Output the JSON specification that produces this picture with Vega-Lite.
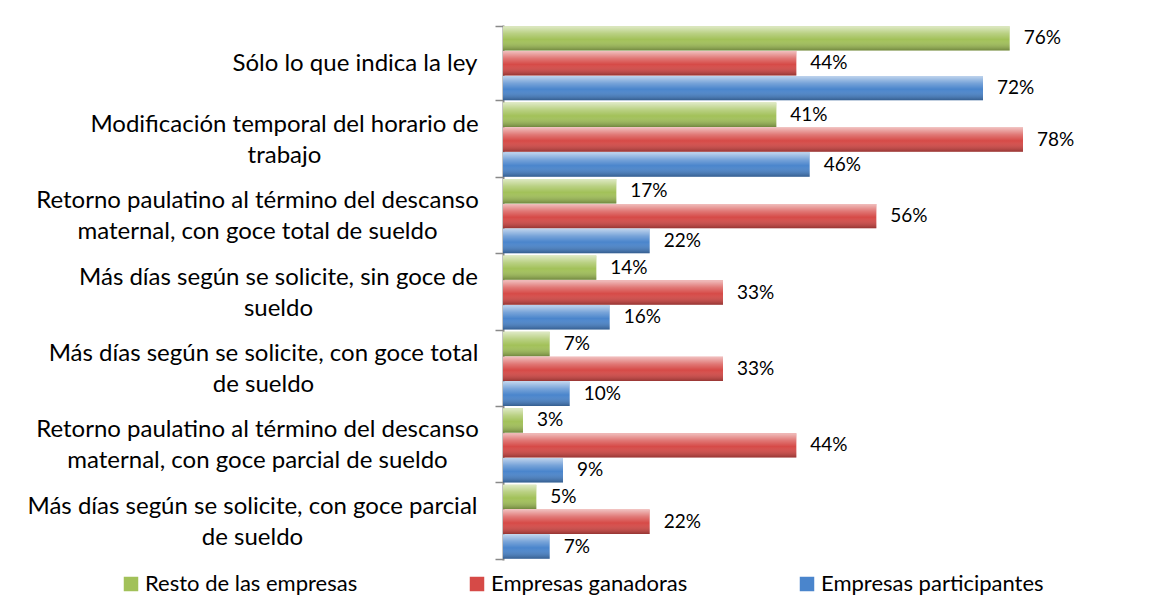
{
  "$schema": "https://vega.github.io/schema/vega-lite/v6.json",
  "autosize": {"type": "none"},
  "padding": {"left": 503, "top": 25, "right": 54, "bottom": 50},
  "width": 600,
  "height": 535,
  "background": "white",
  "config": {"view": {"stroke": null}, "font": "Lato"},
  "data": {"values": [
    {"cat": "Sólo lo que indica la ley", "series": "Resto de las empresas", "value": 0.76},
    {"cat": "Sólo lo que indica la ley", "series": "Empresas ganadoras", "value": 0.44},
    {"cat": "Sólo lo que indica la ley", "series": "Empresas participantes", "value": 0.72},
    {"cat": "Modificación temporal del horario de\ntrabajo", "series": "Resto de las empresas", "value": 0.41},
    {"cat": "Modificación temporal del horario de\ntrabajo", "series": "Empresas ganadoras", "value": 0.78},
    {"cat": "Modificación temporal del horario de\ntrabajo", "series": "Empresas participantes", "value": 0.46},
    {"cat": "Retorno paulatino al término del descanso\nmaternal, con goce total de sueldo", "series": "Resto de las empresas", "value": 0.17},
    {"cat": "Retorno paulatino al término del descanso\nmaternal, con goce total de sueldo", "series": "Empresas ganadoras", "value": 0.56},
    {"cat": "Retorno paulatino al término del descanso\nmaternal, con goce total de sueldo", "series": "Empresas participantes", "value": 0.22},
    {"cat": "Más días según se solicite, sin goce de\nsueldo", "series": "Resto de las empresas", "value": 0.14},
    {"cat": "Más días según se solicite, sin goce de\nsueldo", "series": "Empresas ganadoras", "value": 0.33},
    {"cat": "Más días según se solicite, sin goce de\nsueldo", "series": "Empresas participantes", "value": 0.16},
    {"cat": "Más días según se solicite, con goce total\nde sueldo", "series": "Resto de las empresas", "value": 0.07},
    {"cat": "Más días según se solicite, con goce total\nde sueldo", "series": "Empresas ganadoras", "value": 0.33},
    {"cat": "Más días según se solicite, con goce total\nde sueldo", "series": "Empresas participantes", "value": 0.10},
    {"cat": "Retorno paulatino al término del descanso\nmaternal, con goce parcial de sueldo", "series": "Resto de las empresas", "value": 0.03},
    {"cat": "Retorno paulatino al término del descanso\nmaternal, con goce parcial de sueldo", "series": "Empresas ganadoras", "value": 0.44},
    {"cat": "Retorno paulatino al término del descanso\nmaternal, con goce parcial de sueldo", "series": "Empresas participantes", "value": 0.09},
    {"cat": "Más días según se solicite, con goce parcial\nde sueldo", "series": "Resto de las empresas", "value": 0.05},
    {"cat": "Más días según se solicite, con goce parcial\nde sueldo", "series": "Empresas ganadoras", "value": 0.22},
    {"cat": "Más días según se solicite, con goce parcial\nde sueldo", "series": "Empresas participantes", "value": 0.07}
  ]},
  "encoding": {
    "y": {
      "field": "cat", "type": "nominal", "sort": null,
      "scale": {"paddingInner": 0.03, "paddingOuter": 0.015},
      "axis": {
        "title": null,
        "labelExpr": "isValid(datum.value) ? split(datum.value, '\\n') : ''",
        "labelFont": "Lato", "labelFontSize": 24, "labelColor": "#000000", "labelFontWeight": "normal",
        "labelLineHeight": 31, "labelBaseline": "middle",
        "labelAlign": {"condition": {"test": "isValid(datum.value) && indexof(datum.value, '\\n') >= 0", "value": "center"}, "value": "right"},
        "labelOffset": {"condition": {"test": "isValid(datum.value) && indexof(datum.value, '\\n') >= 0", "value": -15.5}, "value": 0},
        "labelPadding": {"condition": [
          {"test": "isValid(datum.value) && indexof(datum.value, 'horario de\\n') >= 0", "value": 211},
          {"test": "isValid(datum.value) && indexof(datum.value, 'Retorno') >= 0", "value": 238},
          {"test": "isValid(datum.value) && indexof(datum.value, 'sin goce') >= 0", "value": 217},
          {"test": "isValid(datum.value) && indexof(datum.value, 'con goce total\\nde') >= 0", "value": 232},
          {"test": "isValid(datum.value) && indexof(datum.value, 'con goce parcial\\nde') >= 0", "value": 243}
        ], "value": 18},
        "labelLimit": 600,
        "tickBand": "extent", "tickSize": 8, "tickColor": "#898989", "tickWidth": 1.5,
        "domainColor": "#898989", "domainWidth": 2
      }
    },
    "yOffset": {
      "field": "series", "type": "nominal",
      "sort": ["Resto de las empresas", "Empresas ganadoras", "Empresas participantes"],
      "scale": {"paddingInner": 0.02, "paddingOuter": 0}
    },
    "x": {"field": "value", "type": "quantitative", "scale": {"domain": [0, 0.9]}, "axis": null}
  },
  "layer": [
    {
      "mark": {"type": "bar"},
      "encoding": {
        "color": {
          "field": "series", "type": "nominal",
          "sort": ["Resto de las empresas", "Empresas ganadoras", "Empresas participantes"],
          "scale": {"domain": ["Resto de las empresas", "Empresas ganadoras", "Empresas participantes"], "range": ["#a2c159", "#d64a47", "#4a85cc"]},
          "legend": {
            "title": null, "orient": "none", "legendX": -383, "legendY": 548,
            "direction": "horizontal", "columns": 3, "columnPadding": 108,
            "symbolType": "square", "symbolSize": 210, "symbolStrokeWidth": 0, "symbolOffset": 0,
            "labelFont": "Lato", "labelFontSize": 22, "labelColor": "#000000", "labelOffset": 3, "labelLimit": 800
          }
        }
      }
    },
    {
      "mark": {
        "type": "bar",
        "fill": {"gradient": "linear", "x1": 0, "y1": 0, "x2": 0, "y2": 1, "stops": [
          {"offset": 0, "color": "rgba(255,255,255,0.65)"},
          {"offset": 0.3, "color": "rgba(255,255,255,0.25)"},
          {"offset": 0.55, "color": "rgba(255,255,255,0)"},
          {"offset": 1, "color": "rgba(0,0,0,0.3)"}
        ]}
      },
      "encoding": {}
    },
    {
      "mark": {"type": "text", "align": "left", "baseline": "middle", "dx": 14, "font": "Lato", "fontSize": 19, "color": "#000000"},
      "encoding": {
        "text": {"field": "value", "type": "quantitative", "format": ".0%"}
      }
    }
  ]
}
